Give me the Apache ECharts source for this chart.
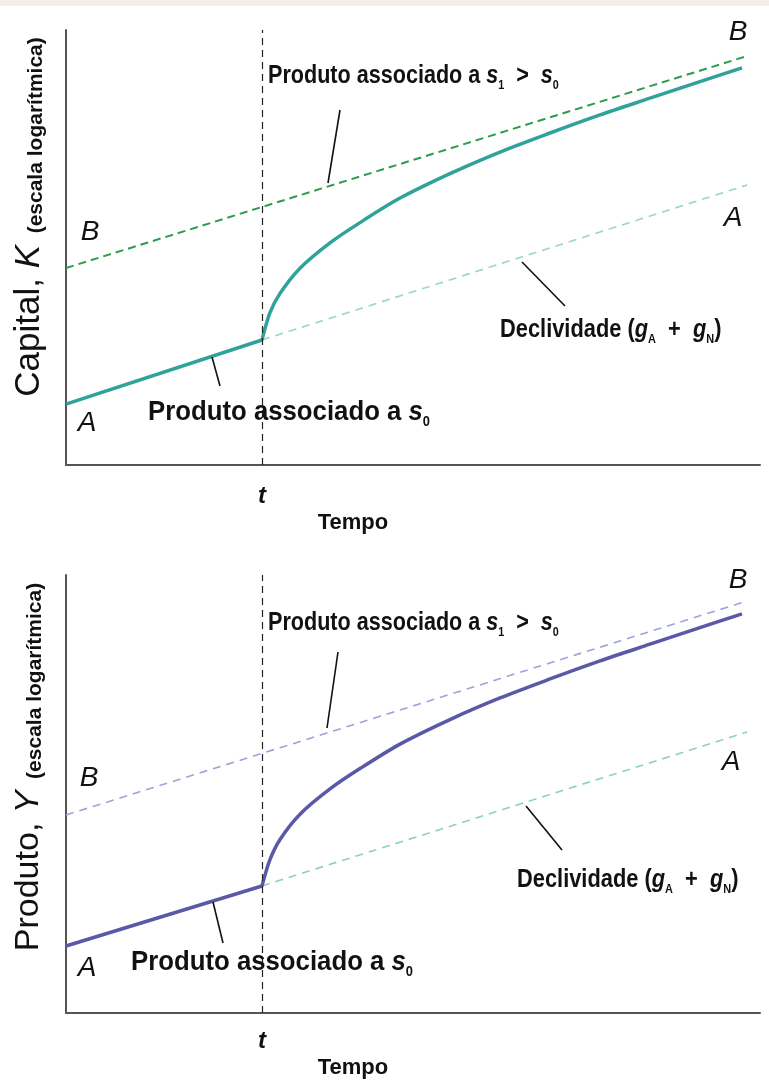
<!DOCTYPE html>
<html><head><meta charset="utf-8">
<script src="https://cdn.jsdelivr.net/npm/echarts@6/dist/echarts.min.js"></script>
<style>html,body{margin:0;padding:0;background:#fff}#c{width:769px;height:1083px}</style>
</head><body><div id="c"></div>
<script>
// ---------- data (x: time 0-100, y: log level 0-100) ----------
const tTop = 28.24;
const topPreA   = [[0, 14.0], [28.24, 28.74]];
const topSlopeA = [[28.24, 28.74], [98.13, 64.37]];
const topPathB  = [[0, 45.29], [98.13, 94.02]];
const topCurve  = [[28.24, 28.74], [29.39, 35.03], [30.84, 39.45], [33.72, 45.24], [38.04, 51.06],
  [42.36, 55.72], [48.13, 61.36], [55.33, 66.99], [62.54, 71.95], [69.74, 76.32],
  [76.95, 80.48], [84.15, 84.32], [91.35, 88.14], [97.41, 91.31]];

const tBot = 28.24;
const botPreA   = [[0, 15.3], [28.24, 29.0]];
const botSlopeA = [[28.24, 29.0], [98.13, 64.16]];
const botPathB  = [[0, 45.21], [98.13, 94.06]];
const botCurve  = [[28.24, 29.0], [29.39, 35.02], [30.84, 39.63], [33.72, 45.39], [38.04, 51.16],
  [42.36, 55.80], [48.13, 61.39], [55.33, 66.99], [62.54, 71.92], [69.74, 76.26],
  [76.95, 80.39], [84.15, 84.20], [91.35, 87.99], [97.41, 91.14]];

const FF = 'Liberation Sans, Arial, Helvetica, sans-serif';

const chart = echarts.init(document.getElementById('c'), null, {renderer: 'canvas'});

function axis(i) {
  return {type: 'value', gridIndex: i, min: 0, max: 100,
    axisLine: {show: true, onZero: false, lineStyle: {color: '#555', width: 2}},
    axisTick: {show: false}, axisLabel: {show: false}, splitLine: {show: false}};
}
function line(i, data, color, width, type, z, smooth) {
  return {type: 'line', xAxisIndex: i, yAxisIndex: i, data: data, showSymbol: false, symbol: 'none',
    smooth: smooth || false, z: z, silent: true,
    lineStyle: {color: color, width: width, type: type, cap: 'butt'}};
}
function tMark(i, t) {
  return {type: 'line', xAxisIndex: i, yAxisIndex: i, data: [], silent: true,
    markLine: {symbol: 'none', silent: true, label: {show: false},
      lineStyle: {color: '#222', width: 1.2, type: [7, 5]}, data: [{xAxis: t}]}};
}

function richFor(size) {
  return {
    b:   {fontSize: size, fontWeight: 'bold', fontFamily: FF, lineHeight: size + 6, verticalAlign: 'middle', fill: '#111'},
    i:   {fontSize: size, fontWeight: 'bold', fontStyle: 'italic', fontFamily: FF, lineHeight: size + 6, verticalAlign: 'middle', fill: '#111'},
    sub: {fontSize: Math.round(size * 0.5), fontWeight: 'bold', fontFamily: FF, lineHeight: Math.round(size * 0.5), verticalAlign: 'bottom', fill: '#111'}
  };
}
function label(x, y, text, size, sx) {
  return {type: 'text', x: x, y: y, scaleX: sx, z: 10,
    style: {text: text, rich: richFor(size), align: 'left', verticalAlign: 'middle',
      textAlign: 'left', textVerticalAlign: 'middle'}};
}
function letter(x, y, s, size, weight) {
  return {type: 'text', x: x, y: y, z: 10,
    style: {text: s, fontSize: size || 28, fontStyle: 'italic', fontWeight: weight || 'normal', fontFamily: FF, fill: '#111',
      align: 'center', verticalAlign: 'middle', textAlign: 'center', textVerticalAlign: 'middle'}};
}
function plain(x, y, s) {
  return {type: 'text', x: x, y: y, z: 10,
    style: {text: s, fontSize: 22, fontWeight: 'bold', fontFamily: FF, fill: '#111',
      align: 'center', verticalAlign: 'middle', textAlign: 'center', textVerticalAlign: 'middle'}};
}
function pointer(x1, y1, x2, y2) {
  return {type: 'line', z: 9, shape: {x1: x1, y1: y1, x2: x2, y2: y2},
    style: {stroke: '#111', lineWidth: 1.6}};
}
function yName(x, y, text, big) {
  return {type: 'text', x: x, y: y, rotation: Math.PI / 2, z: 10,
    style: {text: text, align: 'center', verticalAlign: 'middle', textAlign: 'center', textVerticalAlign: 'middle',
      rich: {
        big:  {fontSize: big, fontFamily: FF, lineHeight: big + 2, verticalAlign: 'bottom', fill: '#111'},
        bigi: {fontSize: big, fontStyle: 'italic', fontFamily: FF, lineHeight: big + 2, verticalAlign: 'bottom', fill: '#111'},
        sm:   {fontSize: 21, fontWeight: 'bold', fontFamily: FF, lineHeight: 26, verticalAlign: 'bottom', fill: '#111'}
      }}};
}

const LBL1 = '{b|Produto associado a }{i|s}{sub|1}{b|  >  }{i|s}{sub|0}';
const LBL0 = '{b|Produto associado a }{i|s}{sub|0}';
const LBLD = '{b|Declividade (}{i|g}{sub|A}{b|  +  }{i|g}{sub|N}{b|)}';

const option = {
  animation: false,
  backgroundColor: '#ffffff',
  grid: [
    {left: 66, top: 30, right: 9, height: 435},
    {left: 66, top: 575, right: 9, height: 438}
  ],
  xAxis: [axis(0), axis(1)],
  yAxis: [axis(0), axis(1)],
  series: [
    tMark(0, tTop),
    line(0, topSlopeA, '#98d4d0', 1.6, [8, 6], 2),
    line(0, topPathB, '#2e9b4e', 2, [8, 5], 3),
    line(0, topPreA, '#2fa29c', 3.5, 'solid', 4),
    line(0, topCurve, '#2fa29c', 3.5, 'solid', 4, 0.3),
    tMark(1, tBot),
    line(1, botSlopeA, '#8ccfca', 1.6, [8, 6], 2),
    line(1, botPathB, '#a0a0db', 1.6, [8, 6], 3),
    line(1, botPreA, '#5a59a7', 3.5, 'solid', 4),
    line(1, botCurve, '#5a59a7', 3.5, 'solid', 4, 0.3)
  ],
  graphic: [
    {type: 'rect', shape: {x: 0, y: 0, width: 769, height: 6}, style: {fill: '#f4efe4'}, z: 1},
    // top chart
    yName(28, 217, '{big|Capital, }{bigi|K}{sm|  (escala logarítmica)}', 35),
    label(268, 76, LBL1, 26, 0.83),
    label(148, 412, LBL0, 28, 0.92),
    label(500, 330, LBLD, 26, 0.84),
    pointer(340, 110, 328, 183),
    pointer(522, 262, 565, 306),
    pointer(212, 357, 220, 386),
    letter(90, 232, 'B'), letter(738, 32, 'B'),
    letter(87, 423, 'A'), letter(733, 218, 'A'),
    letter(262, 496, 't', 24, 'bold'),
    plain(353, 523, 'Tempo'),
    // bottom chart
    yName(28, 767, '{big|Produto, }{bigi|Y}{sm|  (escala logarítmica)}', 34),
    label(268, 623, LBL1, 26, 0.83),
    label(131, 962, LBL0, 28, 0.92),
    label(517, 880, LBLD, 26, 0.84),
    pointer(338, 652, 327, 728),
    pointer(526, 806, 562, 850),
    pointer(213, 902, 223, 943),
    letter(89, 778, 'B'), letter(738, 580, 'B'),
    letter(87, 968, 'A'), letter(731, 762, 'A'),
    letter(262, 1041, 't', 24, 'bold'),
    plain(353, 1068, 'Tempo')
  ]
};
chart.setOption(option);
</script>
</body></html>
